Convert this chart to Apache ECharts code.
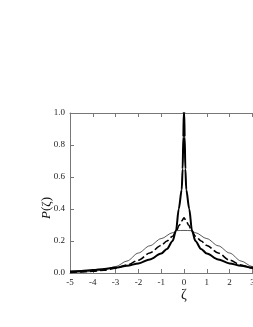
<!DOCTYPE html>
<html><head><meta charset="utf-8">
<script src="https://cdn.jsdelivr.net/npm/echarts@6/dist/echarts.min.js"></script>
<style>html,body{margin:0;padding:0;background:#fff}#c{width:253px;height:327px}</style>
</head><body><div id="c"></div>
<script>
// x positions (zeta) and P(zeta) values
const xThick = [-5,-4.5,-4,-3.5,-3,-2.5,-2,-1.5,-1,-0.75,-0.5,-0.35,-0.23,-0.1,-0.06,-0.03,-0.01,0,0.01,0.03,0.06,0.1,0.23,0.35,0.5,0.75,1,1.5,2,2.5,3,3.5,4,4.5,5];
const yThick = [0.01,0.013,0.018,0.025,0.034,0.045,0.06,0.085,0.122,0.15,0.2,0.265,0.4,0.52,0.65,0.85,1.0,1.2,1.0,0.85,0.65,0.52,0.4,0.265,0.2,0.15,0.122,0.085,0.06,0.045,0.034,0.025,0.018,0.013,0.01];
const xDash = [-5,-4.5,-4,-3.5,-3,-2.5,-2,-1.5,-1,-0.75,-0.5,-0.35,-0.2,-0.1,0,0.1,0.2,0.35,0.5,0.75,1,1.5,2,2.5,3,3.5,4,4.5,5];
const yDash = [0.004,0.007,0.011,0.018,0.03,0.05,0.08,0.125,0.172,0.2,0.23,0.26,0.3,0.325,0.345,0.325,0.3,0.26,0.23,0.2,0.172,0.125,0.08,0.05,0.03,0.018,0.011,0.007,0.004];
const xThin = [-5,-4.5,-4,-3.5,-3,-2.5,-2,-1.5,-1,-0.5,-0.3,0,0.3,0.5,1,1.5,2,2.5,3,3.5,4,4.5,5];
const yThin = [0.002,0.005,0.01,0.02,0.04,0.075,0.125,0.17,0.215,0.252,0.265,0.266,0.265,0.252,0.215,0.17,0.125,0.075,0.04,0.02,0.01,0.005,0.002];
const yTicks = [0, 0.2, 0.4, 0.6, 0.8, 1.0];

const pair = (xs, ys) => xs.map((x, i) => [x, ys[i]]);
const serif = 'Liberation Serif';
const chart = echarts.init(document.getElementById('c'), null, {renderer: 'canvas'});
chart.setOption({
  animation: false,
  grid: {left: 70, top: 113, width: 228, height: 160, outerBoundsMode: 'none', containLabel: false},
  xAxis: [{
    type: 'value', min: -5, max: 5, interval: 1, position: 'bottom',
    axisLine: {onZero: false, lineStyle: {color: '#777', width: 1}},
    axisTick: {inside: true, length: 4, lineStyle: {color: '#777'}},
    axisLabel: {fontFamily: serif, fontSize: 9, color: '#222', margin: 5},
    splitLine: {show: false}
  }, {
    type: 'value', min: -5, max: 5, interval: 1, position: 'top',
    axisLine: {show: true, onZero: false, lineStyle: {color: '#777', width: 1}},
    axisTick: {inside: true, length: 4, lineStyle: {color: '#777'}},
    axisLabel: {show: false}, splitLine: {show: false}
  }],
  yAxis: [{
    type: 'value', min: 0, max: 1, interval: 0.2, position: 'left',
    axisLine: {show: true, onZero: false, lineStyle: {color: '#777', width: 1}},
    axisTick: {show: true, inside: true, length: 4, lineStyle: {color: '#777'}},
    axisLabel: {fontFamily: serif, fontSize: 9, color: '#222', margin: 5,
      formatter: v => v.toFixed(1)},
    splitLine: {show: false}
  }, {
    type: 'value', min: 0, max: 1, interval: 0.2, position: 'right',
    axisLine: {show: true, onZero: false, lineStyle: {color: '#777', width: 1}},
    axisTick: {show: true, inside: true, length: 4, lineStyle: {color: '#777'}},
    axisLabel: {show: false}, splitLine: {show: false}
  }],
  series: [
    {type: 'line', data: pair(xThin, yThin), smooth: 0.3, smoothMonotone: 'x', showSymbol: false, clip: true,
     lineStyle: {color: '#111', width: 0.7}},
    {type: 'line', data: pair(xDash, yDash), smooth: 0.3, smoothMonotone: 'x', showSymbol: false, clip: true,
     lineStyle: {color: '#000', width: 1.6, type: [7, 3]}},
    {type: 'line', data: pair(xThick, yThick), smooth: 0.3, smoothMonotone: 'x', showSymbol: false, clip: true,
     lineStyle: {color: '#000', width: 2}}
  ],
  graphic: [
    {type: 'text', x: 47, y: 208, rotation: Math.PI / 2,
     style: {text: '{i|P}(ζ)', rich: {i: {fontStyle: 'italic', fontFamily: serif, fontSize: 13}},
       font: '13px "Liberation Serif"', fill: '#111', align: 'center', verticalAlign: 'middle'}},
    {type: 'text', x: 184, y: 295,
     style: {text: 'ζ', font: '14px "Liberation Serif"', fill: '#111', align: 'center', verticalAlign: 'middle'}}
  ]
});
</script></body></html>
